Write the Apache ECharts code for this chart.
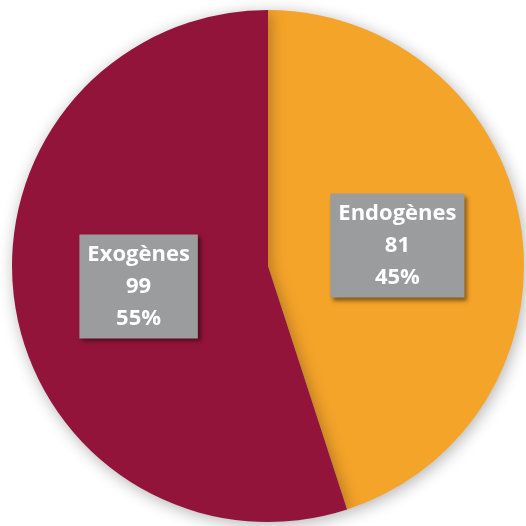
<!DOCTYPE html>
<html>
<head>
<meta charset="utf-8">
<script src="https://cdn.jsdelivr.net/npm/echarts@6/dist/echarts.min.js"></script>
<style>html,body{margin:0;padding:0;background:#fff}#c{width:526px;height:526px}</style>
</head>
<body>
<div id="c"></div>
<script>
const categories = ['Endogènes', 'Exogènes'];
const values = [81, 99];
const colors = ['#f5a42a', '#93143a'];

const chart = echarts.init(document.getElementById('c'), null, {renderer: 'canvas'});
chart.setOption({
  animation: false,
  backgroundColor: '#ffffff',
  series: [{
    type: 'pie',
    center: [268, 266],
    radius: 256,
    startAngle: 90,
    clockwise: true,
    data: categories.map((n, i) => ({name: n, value: values[i], itemStyle: {color: colors[i]}})),
    itemStyle: {
      borderWidth: 0,
      shadowBlur: 16,
      shadowColor: 'rgba(0,0,0,0.3)',
      shadowOffsetX: 2,
      shadowOffsetY: 3
    },
    label: {
      show: true,
      position: 'inside',
      formatter: p => p.name + '\n' + p.value + '\n' + Math.round(p.percent) + '%',
      color: '#ffffff',
      fontFamily: 'Open Sans',
      fontWeight: 'bold',
      fontSize: 22,
      lineHeight: 32,
      backgroundColor: '#9a9c9d',
      padding: [4, 8, 4, 8],
      shadowColor: 'rgba(0,0,0,0.45)',
      shadowBlur: 4,
      shadowOffsetX: 3,
      shadowOffsetY: 3,
      textShadowColor: 'transparent'
    },
    labelLine: {show: false},
    emphasis: {disabled: true}
  }]
});
</script>
</body>
</html>
